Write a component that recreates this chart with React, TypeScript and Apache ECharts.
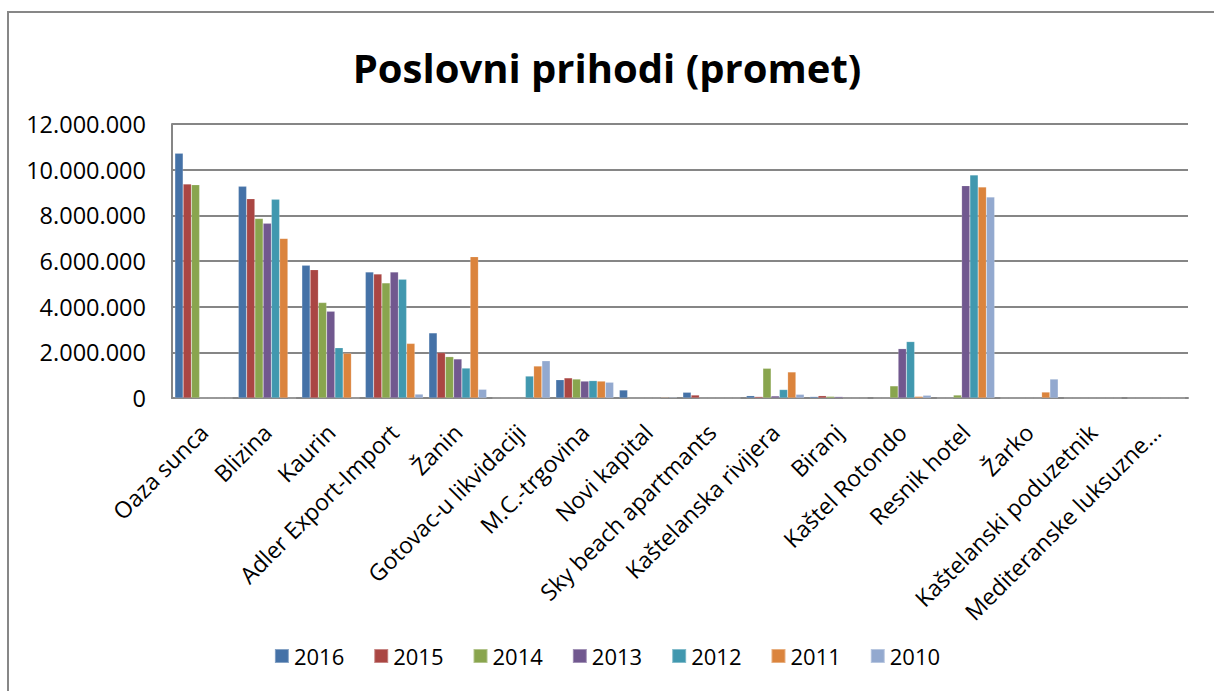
import React, { useEffect, useRef } from "react";
import * as echarts from "echarts";

const categories = [
  "Oaza sunca",
  "Blizina",
  "Kaurin",
  "Adler Export-Import",
  "Žanin",
  "Gotovac-u likvidaciji",
  "M.C.-trgovina",
  "Novi kapital",
  "Sky beach apartmants",
  "Kaštelanska rivijera",
  "Biranj",
  "Kaštel Rotondo",
  "Resnik hotel",
  "Žarko",
  "Kaštelanski poduzetnik",
  "Mediteranske luksuzne…",
];

const years = ["2016", "2015", "2014", "2013", "2012", "2011", "2010"];

const v2016 = [10720000, 9270000, 5810000, 5520000, 2850000, 0, 800000, 350000, 250000, 100000, 60000, 0, 0, 0, 0, 0];
const v2015 = [9370000, 8730000, 5620000, 5430000, 1990000, 0, 880000, 0, 130000, 60000, 100000, 0, 0, 0, 0, 0];
const v2014 = [9340000, 7860000, 4180000, 5040000, 1810000, 0, 830000, 0, 0, 1300000, 70000, 530000, 130000, 0, 0, 0];
const v2013 = [0, 7650000, 3800000, 5520000, 1710000, 0, 740000, 0, 0, 90000, 60000, 2160000, 9300000, 0, 0, 0];
const v2012 = [0, 8700000, 2200000, 5200000, 1310000, 960000, 760000, 0, 0, 370000, 0, 2470000, 9770000, 0, 0, 0];
const v2011 = [0, 6990000, 1960000, 2390000, 6190000, 1400000, 740000, 30000, 0, 1140000, 0, 70000, 9240000, 260000, 0, 0];
const v2010 = [0, 0, 0, 170000, 380000, 1630000, 690000, 30000, 0, 160000, 0, 120000, 8800000, 830000, 0, 0];

const seriesValues = [v2016, v2015, v2014, v2013, v2012, v2011, v2010];
const colors = ["#4572A7", "#AA4643", "#89A54E", "#71588F", "#4198AF", "#DB843D", "#93A9CF"];

const yMin = 0;
const yMax = 12000000;
const yInterval = 2000000;

function fmt(v: number): string {
  return String(v).replace(/\B(?=(\d{3})+(?!\d))/g, ".");
}

export default function App() {
  const ref = useRef<HTMLDivElement>(null);
  useEffect(() => {
    if (!ref.current) return;
    const chart = echarts.init(ref.current, null, { renderer: "svg" });
    const font = "'Open Sans', 'Noto Sans', sans-serif";
    chart.setOption({
      animation: false,
      backgroundColor: "#ffffff",
      title: {
        text: "Poslovni prihodi (promet)",
        left: "center",
        top: 38,
        textStyle: {
          fontFamily: font,
          fontWeight: "bold",
          fontSize: 40,
          lineHeight: 48,
          color: "#000",
        },
      },
      legend: {
        data: years,
        top: 640,
        left: "center",
        itemWidth: 14,
        itemHeight: 14,
        itemGap: 29,
        icon: "rect",
        textStyle: { fontFamily: font, fontSize: 22, color: "#000" },
      },
      grid: { left: 172, right: 26, top: 124, bottom: 293, containLabel: false },
      xAxis: {
        type: "category",
        data: categories,
        axisTick: { show: false },
        axisLine: { show: true, lineStyle: { color: "#868686", width: 2 } },
        axisLabel: {
          interval: 0,
          rotate: 45,
          margin: 30,
          fontFamily: font,
          fontSize: 23,
          color: "#000",
        },
      },
      yAxis: {
        type: "value",
        min: yMin,
        max: yMax,
        interval: yInterval,
        axisLine: { show: true, lineStyle: { color: "#868686", width: 2 } },
        axisTick: { show: false },
        splitLine: { lineStyle: { color: "#868686", width: 2 } },
        axisLabel: {
          formatter: (v: number) => fmt(v),
          margin: 26,
          fontFamily: font,
          fontSize: 23.5,
          color: "#000",
        },
      },
      series: years.map((y, i) => ({
        name: y,
        type: "bar",
        data: seriesValues[i],
        barGap: "0%",
        barCategoryGap: "9%",
        itemStyle: { color: colors[i], borderColor: "rgba(255,255,255,0.35)", borderWidth: 0.5 },
      })),
      graphic: [
        {
          type: "rect",
          shape: { x: 8, y: 12, width: 1300, height: 800 },
          style: { fill: "none", stroke: "#878787", lineWidth: 2 },
          silent: true,
        },
      ],
    });
    return () => chart.dispose();
  }, []);
  return (
    <div
      ref={ref}
      style={{ position: "fixed", left: 0, top: 0, width: 1214, height: 691 }}
    />
  );
}
